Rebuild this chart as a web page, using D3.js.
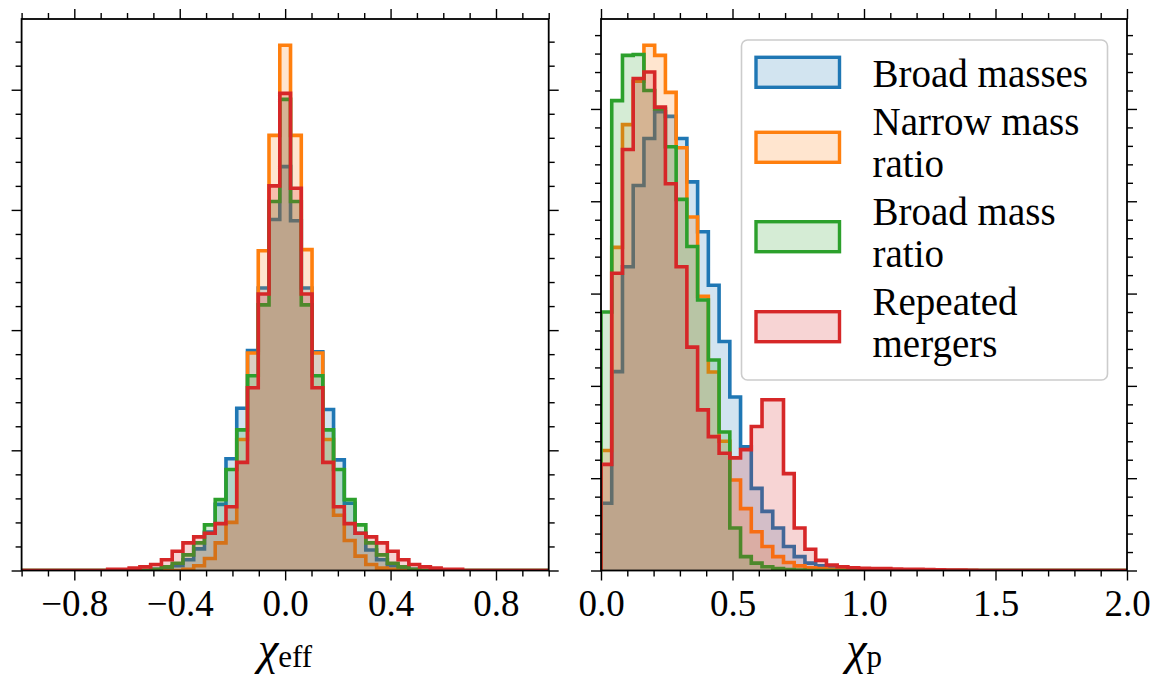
<!DOCTYPE html>
<html>
<head>
<meta charset="utf-8">
<script src="https://cdn.jsdelivr.net/npm/d3@7"></script>
<style>
  body { margin: 0; background: #fff; }
  svg { display: block; }
  text { font-family: "Liberation Serif", "Times New Roman", "DejaVu Serif", serif; fill: #000; }
</style>
</head>
<body>
<svg id="chart" width="1157" height="678"></svg>
<script>
// Population names and colours (tab10)
const seriesNames = ["Broad masses", "Narrow mass\nratio", "Broad mass\nratio", "Repeated\nmergers"];
const seriesColors = ["#1f77b4", "#ff7f0e", "#2ca02c", "#d62728"];
const serifFont = '"Liberation Serif", "Times New Roman", "DejaVu Serif", serif';

// Histogram binning: 49 equal bins over each range
const chiEffRange = [-1, 1];
const chiPRange = [0, 2];
const binCount = 49;

// chi_eff probability densities, one value per bin
const chiEffBroadMasses = [0,0,0,0,0,0,0,0,0,0,0,0,
  0.01,0.02,0.04,0.09,0.18,0.32,0.55,0.93,1.35,1.83,2.35,2.92,3.36,2.91,2.35,1.82,1.34,0.92,0.56,0.31,0.17,0.09,0.04,0.02,0.01,
  0,0,0,0,0,0,0,0,0,0,0,0];
const chiEffNarrowRatio = [0,0,0,0,0,0,0,0,0,0,0,0,0,0,0,
  0.01,0.04,0.10,0.23,0.40,1.09,1.81,2.66,3.62,4.37,3.62,2.67,1.81,1.09,0.46,0.25,0.12,0.05,0.02,0.01,
  0,0,0,0,0,0,0,0,0,0,0,0,0,0];
const chiEffBroadRatio = [0,0,0,0,0,0,0,0,0,0,0,0,
  0.01,0.03,0.06,0.13,0.23,0.38,0.59,0.84,1.17,1.62,2.21,3.07,3.92,3.07,2.21,1.62,1.17,0.84,0.59,0.38,0.23,0.13,0.06,0.03,0.01,
  0,0,0,0,0,0,0,0,0,0,0,0];
const chiEffRepeated = [0,0,0,0,0,0,0,0,
  0.01,0.01,0.02,0.03,0.05,0.09,0.16,0.23,0.28,0.31,0.39,0.53,0.90,1.52,2.30,3.20,3.97,3.18,2.30,1.52,0.90,0.53,0.39,0.31,0.28,0.23,0.16,0.09,0.05,0.03,0.02,0.01,0.01,
  0,0,0,0,0,0,0,0];

// chi_p probability densities, one value per bin
const chiPBroadMasses = [0.364,1.077,1.645,2.085,2.34,2.485,2.46,2.34,2.105,1.835,1.545,1.24,0.94,0.67,0.445,0.32,0.23,0.13,0.075,0.04,0.025,0.015,0.01,0.006,0.004,0.003,0.002,0.001,
  0,0,0,0,0,0,0,0,0,0,0,0,0,0,0,0,0,0,0,0,0];
const chiPNarrowRatio = [0.65,1.75,2.415,2.65,2.845,2.79,2.59,2.29,1.915,1.485,1.075,0.70,0.49,0.335,0.21,0.13,0.075,0.043,0.025,0.015,0.01,0.006,0.004,0.002,
  0,0,0,0,0,0,0,0,0,0,0,0,0,0,0,0,0,0,0,0,0,0,0,0,0];
const chiPBroadRatio = [1.40,2.545,2.79,2.795,2.60,2.50,2.295,2.01,1.755,1.465,1.14,0.75,0.23,0.075,0.04,0.02,0.01,0.005,0.002,
  0,0,0,0,0,0,0,0,0,0,0,0,0,0,0,0,0,0,0,0,0,0,0,0,0,0,0,0,0,0];
const chiPRepeated = [0.575,1.61,2.28,2.665,2.70,2.51,2.095,1.645,1.21,0.87,0.725,0.635,0.61,0.655,0.78,0.925,0.925,0.525,0.23,0.115,0.055,0.03,0.02,0.015,0.012,0.01,0.01,0.008,0.007,0.006,0.005,0.004,0.003,0.002,0.001,
  0,0,0,0,0,0,0,0,0,0,0,0,0,0];

// Tick positions
const chiEffMajorTicks = [-0.8, -0.4, 0.0, 0.4, 0.8];
const chiPMajorTicks = [0.0, 0.5, 1.0, 1.5, 2.0];

const svg = d3.select("#chart");
const plotTop = 19, plotBottom = 570.5;

const panels = [
  { id: "eff", range: chiEffRange, left: 21.6, right: 548.7,
    series: [chiEffBroadMasses, chiEffNarrowRatio, chiEffBroadRatio, chiEffRepeated],
    majors: chiEffMajorTicks, xMinorStep: 0.1, yMajorStep: 1.0, yMinorStep: 0.2,
    label: ["\u03c7", "eff"] },
  { id: "p", range: chiPRange, left: 601, right: 1127,
    series: [chiPBroadMasses, chiPNarrowRatio, chiPBroadRatio, chiPRepeated],
    majors: chiPMajorTicks, xMinorStep: 0.1, yMajorStep: 0.5, yMinorStep: 0.1,
    label: ["\u03c7", "p"] }
];

const fmt = d3.format(".1f");

function stepValues(lo, hi, step) {
  const out = [];
  const n = Math.round((hi - lo) / step);
  for (let i = 0; i <= n; i++) out.push(+(lo + i * step).toFixed(6));
  return out;
}

panels.forEach(p => {
  const edges = d3.range(binCount + 1).map(i => p.range[0] + (p.range[1] - p.range[0]) * i / binCount);
  const yMax = 1.05 * d3.max(p.series.flat());

  const x = d3.scaleLinear().domain(p.range).range([p.left, p.right]);
  const y = d3.scaleLinear().domain([0, yMax]).range([plotBottom, plotTop]);

  const g = svg.append("g");
  const clipId = "clip-" + p.id;
  svg.append("clipPath").attr("id", clipId)
    .append("rect").attr("x", p.left).attr("y", plotTop)
    .attr("width", p.right - p.left).attr("height", plotBottom - plotTop);

  const plot = g.append("g").attr("clip-path", `url(#${clipId})`);

  const area = d3.area().x(d => x(d[0])).y0(y(0)).y1(d => y(d[1]));
  const line = d3.line().x(d => x(d[0])).y(d => y(d[1]));

  // Each population: translucent fill, then its outline
  p.series.forEach((vals, si) => {
    const pts = [[edges[0], 0]];
    vals.forEach((v, i) => { pts.push([edges[i], v], [edges[i + 1], v]); });
    pts.push([edges[binCount], 0]);
    plot.append("path").attr("d", area(pts))
      .attr("fill", seriesColors[si]).attr("fill-opacity", 0.2).attr("stroke", "none");
    plot.append("path").attr("d", line(pts))
      .attr("fill", "none").attr("stroke", seriesColors[si])
      .attr("stroke-width", 3.6).attr("stroke-linejoin", "miter");
  });

  // Ticks on all four sides, pointing outward
  const xMinors = stepValues(p.range[0], p.range[1], p.xMinorStep).filter(v => !p.majors.some(m => Math.abs(m - v) < 1e-6));
  const yMajors = stepValues(0, yMax, p.yMajorStep).filter(v => v <= yMax);
  const yMinors = stepValues(0, yMax, p.yMinorStep).filter(v => v <= yMax && !yMajors.some(m => Math.abs(m - v) < 1e-6));

  function addAxis(gen, tr, values, size, labels) {
    const a = g.append("g").attr("transform", tr)
      .call(gen.tickValues(values).tickSize(size).tickSizeOuter(0).tickPadding(9)
        .tickFormat(labels ? fmt : ""));
    a.attr("font-family", null).attr("font-size", null);
    a.select(".domain").remove();
    a.selectAll(".tick line").attr("stroke", "#000").attr("stroke-width", 1.4);
    a.selectAll("text").style("font-size", "37px").style("font-family", serifFont).attr("fill", "#000");
    return a;
  }
  addAxis(d3.axisBottom(x), `translate(0,${plotBottom})`, p.majors, 10, true);
  addAxis(d3.axisBottom(x), `translate(0,${plotBottom})`, xMinors, 6, false);
  addAxis(d3.axisTop(x), `translate(0,${plotTop})`, p.majors, 10, false);
  addAxis(d3.axisTop(x), `translate(0,${plotTop})`, xMinors, 6, false);
  addAxis(d3.axisLeft(y), `translate(${p.left},0)`, yMajors, 10, false);
  addAxis(d3.axisLeft(y), `translate(${p.left},0)`, yMinors, 6, false);
  addAxis(d3.axisRight(y), `translate(${p.right},0)`, yMajors, 10, false);
  addAxis(d3.axisRight(y), `translate(${p.right},0)`, yMinors, 6, false);

  // Frame
  g.append("rect").attr("x", p.left).attr("y", plotTop)
    .attr("width", p.right - p.left).attr("height", plotBottom - plotTop)
    .attr("fill", "none").attr("stroke", "#000").attr("stroke-width", 1.8);

  // Axis label: chi with an upright subscript
  const lab = g.append("text").attr("x", (p.left + p.right) / 2).attr("y", 664)
    .attr("text-anchor", "middle").style("font-family", serifFont);
  lab.append("tspan").text(p.label[0]).style("font-style", "italic").style("font-size", "46px");
  lab.append("tspan").text(p.label[1]).style("font-size", "31px").attr("dy", 3);
});

// Legend
const legend = svg.append("g");
legend.append("rect").attr("x", 741.5).attr("y", 40).attr("width", 366).attr("height", 340)
  .attr("rx", 6).attr("fill", "#fff").attr("fill-opacity", 0.8)
  .attr("stroke", "#cccccc").attr("stroke-width", 1.6);

const lineGap = 41.5;
const firstBaselines = [87.3, 135, 225, 315];
const patchTops = [57.3, 132.3, 221.7, 311.7];
seriesNames.forEach((name, i) => {
  legend.append("rect").attr("x", 756).attr("y", patchTops[i]).attr("width", 83.5).attr("height", 30)
    .attr("fill", seriesColors[i]).attr("fill-opacity", 0.2)
    .attr("stroke", seriesColors[i]).attr("stroke-width", 3.4);
  const t = legend.append("text").attr("x", 872.5).attr("y", firstBaselines[i])
    .style("font-size", "39px").style("font-family", serifFont);
  name.split("\n").forEach((part, j) => {
    t.append("tspan").attr("x", 872.5).attr("dy", j === 0 ? 0 : lineGap).text(part);
  });
});
</script>
</body>
</html>
